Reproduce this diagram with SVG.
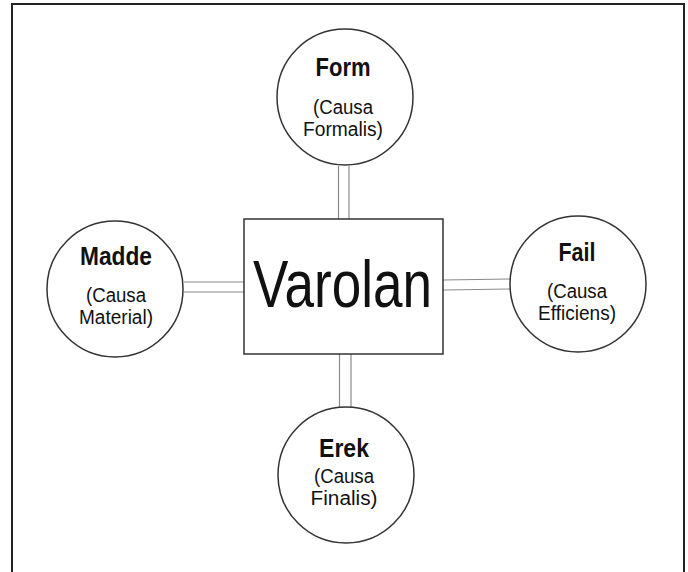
<svg xmlns="http://www.w3.org/2000/svg" width="688" height="572" viewBox="0 0 688 572">
<style>
.frame{fill:none;stroke:#222;stroke-width:2}
.node{fill:#fff;stroke:#333;stroke-width:1.5}
.conn{stroke:#8a8a8a;stroke-width:1.2;fill:none}
.t{font-family:"Liberation Sans",Arial,sans-serif;fill:#111;text-anchor:middle}
.b{font-weight:bold;font-size:25px}
.s{font-size:20px}
.big{font-size:66px}
</style>
<polyline class="frame" points="12,572 12,4 684,4 684,572"/>
<g id="connectors">
<line class="conn" x1="338.5" y1="166" x2="338.5" y2="219"/>
<line class="conn" x1="349" y1="166" x2="349" y2="219"/>
<line class="conn" x1="184" y1="282" x2="244" y2="282"/>
<line class="conn" x1="184" y1="292" x2="244" y2="292"/>
<line class="conn" x1="443" y1="280" x2="510" y2="279"/>
<line class="conn" x1="443" y1="290" x2="510" y2="289"/>
<line class="conn" x1="339.5" y1="354" x2="339.5" y2="408"/>
<line class="conn" x1="351" y1="354" x2="351" y2="408"/>
</g>
<g id="varolan">
<rect class="node" x="244" y="219" width="199" height="135"/>
<text class="t big" x="342.5" y="307" textLength="179" lengthAdjust="spacingAndGlyphs">Varolan</text>
</g>
<g id="form">
<circle class="node" cx="345" cy="97" r="68"/>
<text class="t b" x="343" y="76" textLength="55" lengthAdjust="spacingAndGlyphs">Form</text>
<text class="t s" x="343" y="114" textLength="60" lengthAdjust="spacingAndGlyphs">(Causa</text>
<text class="t s" x="343" y="136" textLength="80" lengthAdjust="spacingAndGlyphs">Formalis)</text>
</g>
<g id="madde">
<circle class="node" cx="115" cy="289" r="68"/>
<text class="t b" x="116" y="265" textLength="72" lengthAdjust="spacingAndGlyphs">Madde</text>
<text class="t s" x="116" y="302" textLength="60" lengthAdjust="spacingAndGlyphs">(Causa</text>
<text class="t s" x="116" y="324" textLength="74" lengthAdjust="spacingAndGlyphs">Material)</text>
</g>
<g id="fail">
<circle class="node" cx="578" cy="284" r="68"/>
<text class="t b" x="577" y="261" textLength="37" lengthAdjust="spacingAndGlyphs">Fail</text>
<text class="t s" x="577" y="298" textLength="60" lengthAdjust="spacingAndGlyphs">(Causa</text>
<text class="t s" x="577" y="320" textLength="78" lengthAdjust="spacingAndGlyphs">Efficiens)</text>
</g>
<g id="erek">
<circle class="node" cx="346" cy="475" r="68"/>
<text class="t b" x="344" y="457" textLength="50" lengthAdjust="spacingAndGlyphs">Erek</text>
<text class="t s" x="344" y="483" textLength="60" lengthAdjust="spacingAndGlyphs">(Causa</text>
<text class="t s" x="344" y="505" textLength="67" lengthAdjust="spacingAndGlyphs">Finalis)</text>
</g>
</svg>
